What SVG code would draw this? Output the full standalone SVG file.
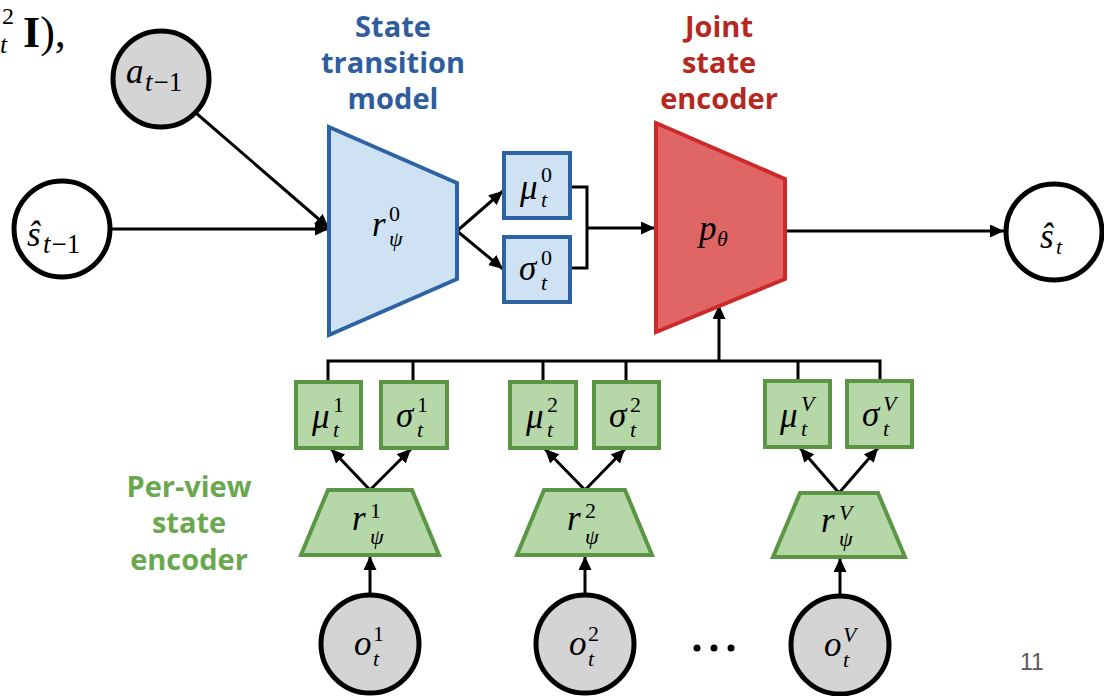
<svg xmlns="http://www.w3.org/2000/svg" width="1104" height="696" viewBox="0 0 1104 696">
<defs>
<marker id="ah" markerUnits="userSpaceOnUse" markerWidth="15" markerHeight="13" refX="14" refY="6.5" orient="auto"><path d="M0,0 L14,6.5 L0,13 z" fill="#000"/></marker>
<style>
.m{font-family:"Liberation Serif",serif;font-style:italic;font-size:35px;fill:#000}
.s{font-family:"Liberation Serif",serif;font-style:italic;font-size:22px;fill:#000}
.u{font-family:"Liberation Serif",serif;font-style:normal;font-size:22px;fill:#000}
.ls{font-size:27px}
.title{font-family:"Open Sans","Noto Sans",sans-serif;font-weight:bold;font-size:29px;text-anchor:middle}
.circ{stroke:#000;stroke-width:5}
.gbox{fill:#B6D7A8;stroke:#5B9644;stroke-width:4}
.bbox{fill:#CFE2F3;stroke:#2E63A3;stroke-width:4}
.ln{fill:none;stroke:#000;stroke-width:3}
</style>
</defs>
<rect width="1104" height="696" fill="#fff"/>

<!-- partial formula fragment -->
<g id="fragment">
<text x="2" y="24" font-family="Liberation Serif,serif" font-size="24">2</text>
<text x="0" y="53" font-family="Liberation Serif,serif" font-style="italic" font-size="26">t</text>
<text x="23" y="47" font-family="Liberation Serif,serif" font-size="44"><tspan font-weight="bold">I</tspan>),</text>
</g>

<!-- titles -->
<g id="title-transition" fill="#2E5D9E">
<text class="title" x="393" y="37">State</text>
<text class="title" x="393" y="73">transition</text>
<text class="title" x="393" y="109">model</text>
</g>
<g id="title-joint" fill="#B5281F">
<text class="title" x="719" y="37">Joint</text>
<text class="title" x="719" y="73">state</text>
<text class="title" x="719" y="109">encoder</text>
</g>
<g id="title-perview" fill="#6AA84F">
<text class="title" x="189" y="497">Per-view</text>
<text class="title" x="189" y="533">state</text>
<text class="title" x="189" y="570">encoder</text>
</g>

<!-- connectors -->
<g id="connectors">
<line class="ln" x1="111" y1="229" x2="329" y2="229" marker-end="url(#ah)"/>
<line class="ln" x1="196" y1="113" x2="329" y2="228" marker-end="url(#ah)"/>
<line class="ln" x1="457" y1="231" x2="503" y2="191" marker-end="url(#ah)"/>
<line class="ln" x1="457" y1="231" x2="503" y2="269" marker-end="url(#ah)"/>
<path class="ln" d="M570,187 H587 V268 H570"/>
<line class="ln" x1="587" y1="228" x2="655" y2="228" marker-end="url(#ah)"/>
<line class="ln" x1="785" y1="231" x2="1004" y2="231" marker-end="url(#ah)"/>
<path class="ln" d="M328,383 V361 H880 V381"/>
<line class="ln" x1="413" y1="361" x2="413" y2="383"/>
<line class="ln" x1="543" y1="361" x2="543" y2="383"/>
<line class="ln" x1="626" y1="361" x2="626" y2="383"/>
<line class="ln" x1="798" y1="361" x2="798" y2="381"/>
<line class="ln" x1="719" y1="361" x2="719" y2="305" marker-end="url(#ah)"/>
<line class="ln" x1="370" y1="490" x2="331" y2="449" marker-end="url(#ah)"/>
<line class="ln" x1="370" y1="490" x2="411" y2="449" marker-end="url(#ah)"/>
<line class="ln" x1="585" y1="490" x2="545" y2="449" marker-end="url(#ah)"/>
<line class="ln" x1="585" y1="490" x2="625" y2="449" marker-end="url(#ah)"/>
<line class="ln" x1="839" y1="493" x2="800" y2="448" marker-end="url(#ah)"/>
<line class="ln" x1="839" y1="493" x2="878" y2="448" marker-end="url(#ah)"/>
<line class="ln" x1="370" y1="594" x2="370" y2="556" marker-end="url(#ah)"/>
<line class="ln" x1="585" y1="594" x2="585" y2="556" marker-end="url(#ah)"/>
<line class="ln" x1="840" y1="595" x2="840" y2="558" marker-end="url(#ah)"/>
</g>

<!-- top nodes -->
<g id="node-a">
<circle class="circ" cx="161" cy="79" r="48" fill="#D4D4D4"/>
<text class="m" x="126" y="83">a</text>
<text x="145" y="91"><tspan class="s ls">t</tspan><tspan class="u ls" dx="1">−1</tspan></text>
</g>
<g id="node-s-prev">
<circle class="circ" cx="62" cy="229" r="48" fill="#fff"/>
<text class="m" x="27" y="246">ŝ</text>
<text x="43" y="253"><tspan class="s ls">t</tspan><tspan class="u ls" dx="1">−1</tspan></text>
</g>
<g id="node-transition">
<polygon points="329,127 457,183 457,279 329,335" fill="#CFE2F3" stroke="#2E63A3" stroke-width="4"/>
<text class="m" x="372" y="236">r</text>
<text class="u" x="389" y="221">0</text>
<text class="s" x="389" y="246">ψ</text>
</g>
<g id="node-mu0">
<rect class="bbox" x="504" y="153" width="66" height="65"/>
<text class="m" x="520" y="199">μ</text>
<text class="u" x="541" y="182">0</text>
<text class="s" x="541" y="207">t</text>
</g>
<g id="node-sigma0">
<rect class="bbox" x="504" y="237" width="66" height="65"/>
<text class="m" x="519" y="280">σ</text>
<text class="u" x="541" y="265">0</text>
<text class="s" x="541" y="290">t</text>
</g>
<g id="node-joint">
<polygon points="656,123 785,179 785,279 656,332" fill="#E06666" stroke="#CC2A2A" stroke-width="4"/>
<text class="m" x="699" y="240">p</text>
<text class="s" x="717" y="246" font-size="24">θ</text>
</g>
<g id="node-s-t">
<circle class="circ" cx="1054" cy="232" r="48" fill="#fff"/>
<text class="m" x="1040" y="248">ŝ</text>
<text class="s" x="1056" y="254" font-size="25">t</text>
</g>

<!-- per-view boxes -->
<g id="node-mu1">
<rect class="gbox" x="296" y="382" width="65" height="66"/>
<text class="m" x="312" y="428">μ</text>
<text class="u" x="333" y="412">1</text>
<text class="s" x="333" y="437">t</text>
</g>
<g id="node-sigma1">
<rect class="gbox" x="381" y="382" width="66" height="66"/>
<text class="m" x="396" y="427">σ</text>
<text class="u" x="417" y="412">1</text>
<text class="s" x="417" y="437">t</text>
</g>
<g id="node-mu2">
<rect class="gbox" x="510" y="382" width="66" height="66"/>
<text class="m" x="526" y="428">μ</text>
<text class="u" x="547" y="412">2</text>
<text class="s" x="547" y="437">t</text>
</g>
<g id="node-sigma2">
<rect class="gbox" x="594" y="382" width="65" height="66"/>
<text class="m" x="609" y="427">σ</text>
<text class="u" x="630" y="412">2</text>
<text class="s" x="630" y="437">t</text>
</g>
<g id="node-muV">
<rect class="gbox" x="765" y="381" width="65" height="66"/>
<text class="m" x="780" y="427">μ</text>
<text class="s" x="801" y="411">V</text>
<text class="s" x="801" y="436">t</text>
</g>
<g id="node-sigmaV">
<rect class="gbox" x="847" y="381" width="65" height="66"/>
<text class="m" x="862" y="426">σ</text>
<text class="s" x="883" y="411">V</text>
<text class="s" x="883" y="436">t</text>
</g>

<!-- per-view encoders -->
<g id="node-r1">
<polygon points="328,490 412,490 439,555 301,555" fill="#B6D7A8" stroke="#5B9644" stroke-width="4"/>
<text class="m" x="352" y="530">r</text>
<text class="u" x="370" y="518">1</text>
<text class="s" x="370" y="544">ψ</text>
</g>
<g id="node-r2">
<polygon points="544,490 625,490 652,555 517,555" fill="#B6D7A8" stroke="#5B9644" stroke-width="4"/>
<text class="m" x="567" y="530">r</text>
<text class="u" x="585" y="518">2</text>
<text class="s" x="585" y="544">ψ</text>
</g>
<g id="node-rV">
<polygon points="800,493 878,493 905,557 773,557" fill="#B6D7A8" stroke="#5B9644" stroke-width="4"/>
<text class="m" x="821" y="532">r</text>
<text class="s" x="839" y="520">V</text>
<text class="s" x="839" y="546">ψ</text>
</g>

<!-- observations -->
<g id="node-o1">
<circle class="circ" cx="370" cy="644" r="49" fill="#D4D4D4"/>
<text class="m" x="354" y="655">o</text>
<text class="u" x="373" y="641">1</text>
<text class="s" x="373" y="666">t</text>
</g>
<g id="node-o2">
<circle class="circ" cx="585" cy="644" r="49" fill="#D4D4D4"/>
<text class="m" x="569" y="655">o</text>
<text class="u" x="588" y="641">2</text>
<text class="s" x="588" y="666">t</text>
</g>
<g id="node-oV">
<circle class="circ" cx="840" cy="645" r="49" fill="#D4D4D4"/>
<text class="m" x="824" y="656">o</text>
<text class="s" x="843" y="642">V</text>
<text class="s" x="843" y="667">t</text>
</g>

<g id="ellipsis" fill="#000">
<circle cx="697" cy="648" r="3.5"/>
<circle cx="714" cy="648" r="3.5"/>
<circle cx="731" cy="648" r="3.5"/>
</g>

<text x="1020" y="670" font-family="Liberation Sans,Arial,sans-serif" font-size="23" fill="#595959">11</text>
</svg>
